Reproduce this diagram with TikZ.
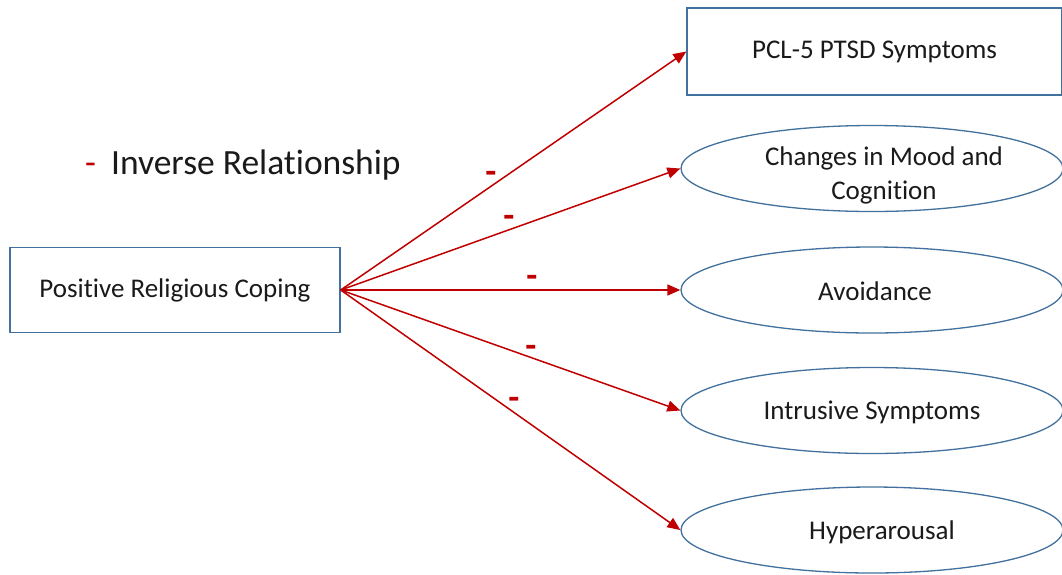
\documentclass[tikz,border=0pt]{standalone}
\usepackage{fontspec}
\setmainfont{Carlito}[Ligatures=NoCommon]
\usetikzlibrary{arrows.meta,shapes.geometric}
\definecolor{boxblue}{HTML}{41719C}
\definecolor{arrred}{HTML}{C00000}
\definecolor{inkblack}{HTML}{1A1A1A}
\tikzset{
  rectbox/.style={draw=boxblue, line width=1.4pt, rectangle, inner sep=0pt,
    text=inkblack, font=\fontsize{27}{32}\selectfont},
  ellbox/.style={draw=boxblue, line width=1.3pt, ellipse, inner sep=0pt,
    minimum width=382pt, minimum height=86pt},
  elltext/.style={text=inkblack, align=center, inner sep=0pt,
    font=\fontsize{27}{34}\selectfont},
  link/.style={draw=arrred, line width=1.5pt, -{Triangle[length=13pt,width=11pt]}},
  minus/.style={text=arrred, inner sep=0pt, font=\bfseries\fontsize{36}{36}\selectfont}
}
\begin{document}
\begin{tikzpicture}[x=1pt,y=-1pt]
\useasboundingbox (0,0) rectangle (1062,574);
\fill[white] (0,0) rectangle (1062,574);

% source and outcome boxes
\node[rectbox, minimum width=330pt, minimum height=85pt] (prc) at (175,290) {\raisebox{-2pt}{Positive Religious Coping}};
\node[rectbox, minimum width=375pt, minimum height=87pt] (pcl) at (874.5,51.5) {PCL-5 PTSD Symptoms};

\node[ellbox] (mood) at (872,168.5) {};
\node[elltext] (moodtxt) at (884,175) {Changes in Mood and\\Cognition};
\node[ellbox] (avoid) at (872,290) {};
\node[elltext] (avoidtxt) at (875,291) {Avoidance};
\node[ellbox] (intr) at (872,410.5) {};
\node[elltext] (intrtxt) at (872,412) {Intrusive Symptoms};
\node[ellbox] (hyper) at (872,530) {};
\node[elltext] (hypertxt) at (882,532) {Hyperarousal};

% legend
\node[anchor=base west, inner sep=0pt, text=inkblack, font=\fontsize{35.5}{40}\selectfont]
  (legend) at (85,174) {\textcolor{arrred}{-}\hspace{7pt} Inverse Relationship};

% paths
\draw[link] (prc.east) -- (pcl.west);
\draw[link] (prc.east) -- (mood.west);
\draw[link] (prc.east) -- (avoid.west);
\draw[link] (prc.east) -- (intr.west);
\draw[link] (prc.east) -- (hyper.west);

% signs on the paths
\node[minus, anchor=base] (s1) at (491,183) {-};
\node[minus, anchor=base] (s2) at (509,227) {-};
\node[minus, anchor=base] (s3) at (532,287) {-};
\node[minus, anchor=base] (s4) at (531,357) {-};
\node[minus, anchor=base] (s5) at (514,409) {-};
\end{tikzpicture}
\end{document}
